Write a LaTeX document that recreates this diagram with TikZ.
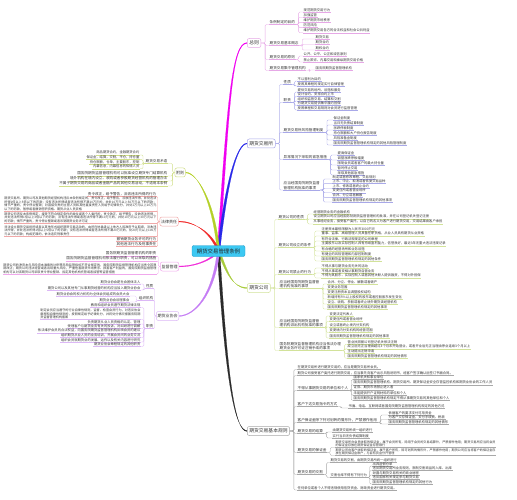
\documentclass[tikz,border=0pt]{standalone}
\usepackage{fontspec}
\newfontfamily\cjk{Noto Sans CJK SC}
\usepackage{xcolor}
\usepackage{tikz}
\usetikzlibrary{backgrounds}
\XeTeXlinebreaklocale "zh"
\XeTeXlinebreakskip = 0pt plus 1pt

\definecolor{rootc}{HTML}{3CC8F2}
\definecolor{rootd}{HTML}{1E9CCC}
\definecolor{zzc}{HTML}{F000F0}
\definecolor{zzl}{HTML}{E6A8E6}
\definecolor{jsc}{HTML}{2828E8}
\definecolor{jsl}{HTML}{A8A8E8}
\definecolor{gsc}{HTML}{A8CC3C}
\definecolor{gsl}{HTML}{D2E29A}
\definecolor{gzc}{HTML}{2A2A2A}
\definecolor{gzl}{HTML}{A8A8A8}
\definecolor{fzc}{HTML}{B4D028}
\definecolor{fzl}{HTML}{D0DE88}
\definecolor{flc}{HTML}{F02828}
\definecolor{fll}{HTML}{F0A8A8}
\definecolor{jgc}{HTML}{F028D8}
\definecolor{jgl}{HTML}{F0A8EC}
\definecolor{xhc}{HTML}{C47CF4}
\definecolor{xhl}{HTML}{DCB8F6}

\begin{document}
\begin{tikzpicture}[x=1pt, y=-1pt,
  rootbox/.style={rectangle, rounded corners=2pt, draw=rootd, fill=rootc, line width=0.4pt, minimum width=53pt, minimum height=11pt, inner sep=1pt, text=black!85, font=\cjk\fontsize{5.4}{6}\selectfont},
  mainbox/.style={rectangle, rounded corners=2pt, draw=#1, fill=white, line width=0.5pt, minimum height=9pt, inner xsep=2pt, inner ysep=1pt, text=black!80, font=\cjk\fontsize{4.8}{5.4}\selectfont},
  sidebox/.style={mainbox=#1, inner xsep=1.2pt, font=\cjk\fontsize{4}{4.6}\selectfont},
  branch/.style={fill=#1, draw=#1, line width=0.2pt, line join=round},
  twig/.style={draw=#1, line width=0.35pt, rounded corners=1.2pt},
  subtopic/.style={inner sep=0.5pt, align=left, text=black!80, font=\cjk\fontsize{3.6}{4.1}\selectfont,
    append after command={(\tikzlastnode.south west) edge[draw=#1, line width=0.35pt] (\tikzlastnode.south east)}},
  leaftopic/.style={inner sep=0.5pt, text=black!80, font=\cjk\fontsize{3.3}{3.7}\selectfont,
    append after command={(\tikzlastnode.south west) edge[draw=#1, line width=0.35pt] (\tikzlastnode.south east)}},
  blocktopic/.style={inner sep=0.4pt, align=justify, text=black!80, font=\cjk\fontsize{3.1}{3.5}\selectfont,
    append after command={(\tikzlastnode.south west) edge[draw=#1, line width=0.35pt] (\tikzlastnode.south east)}}
]
\useasboundingbox (0,0) rectangle (517,500);

% Centre topic
\node[rootbox] (root) at (218.5,251) {期货交易管理条例};

% Main topics, right side
\node[mainbox=zzl, anchor=west] (zz) at (247,43) {总则};
\node[mainbox=jsl, anchor=west] (js) at (247,143.5) {期货交易所};
\node[mainbox=gsl, anchor=west] (gs) at (247,288) {期货公司};
\node[mainbox=gzl, anchor=west] (gz) at (247,431) {期货交易基本规则};
% Main topics, left side
\node[sidebox=fzl, anchor=east] (fz) at (185.5,172.5) {附则};
\node[sidebox=fll, anchor=east] (fl) at (178.5,221.5) {法律责任};
\node[sidebox=jgl, anchor=east] (jg) at (179,266.5) {监督管理};
\node[sidebox=xhl, anchor=east] (xh) at (179,316) {期货业协会};

% Tapered branches behind the centre
\begin{scope}[on background layer]
\path[branch=zzc] ([xshift=-1.3pt]root.center) .. controls +(10,-150) and +(-15,0) .. ([yshift=0.4pt]zz.west)
  -- ([yshift=-0.4pt]zz.west) .. controls +(-15,0) and +(10,-150) .. ([xshift=1.3pt]root.center) -- cycle;
\path[branch=jsc] ([xshift=-1.3pt]root.center) .. controls +(8,-70) and +(-10,0) .. ([yshift=0.4pt]js.west)
  -- ([yshift=-0.4pt]js.west) .. controls +(-10,0) and +(8,-70) .. ([xshift=1.3pt]root.center) -- cycle;
\path[branch=gsc] ([xshift=-1.3pt]root.center) .. controls +(8,20) and +(-15,0) .. ([yshift=0.4pt]gs.west)
  -- ([yshift=-0.4pt]gs.west) .. controls +(-15,0) and +(8,20) .. ([xshift=1.3pt]root.center) -- cycle;
\path[branch=gzc] ([xshift=-1.3pt]root.center) .. controls +(8,130) and +(-12,0) .. ([yshift=0.4pt]gz.west)
  -- ([yshift=-0.4pt]gz.west) .. controls +(-12,0) and +(8,130) .. ([xshift=1.3pt]root.center) -- cycle;
\path[branch=fzc] ([xshift=-1.3pt]root.center) .. controls +(-5,-50) and +(12,0) .. ([yshift=0.4pt]fz.east)
  -- ([yshift=-0.4pt]fz.east) .. controls +(12,0) and +(-5,-50) .. ([xshift=1.3pt]root.center) -- cycle;
\path[branch=flc] ([xshift=-1.3pt]root.center) .. controls +(-8,-20) and +(15,0) .. ([yshift=0.4pt]fl.east)
  -- ([yshift=-0.4pt]fl.east) .. controls +(15,0) and +(-8,-20) .. ([xshift=1.3pt]root.center) -- cycle;
\path[branch=jgc] ([xshift=-1.3pt]root.center) .. controls +(-8,10) and +(15,0) .. ([yshift=0.4pt]jg.east)
  -- ([yshift=-0.4pt]jg.east) .. controls +(15,0) and +(-8,10) .. ([xshift=1.3pt]root.center) -- cycle;
\path[branch=xhc] ([xshift=-1.3pt]root.center) .. controls +(-5,45) and +(15,0) .. ([yshift=0.4pt]xh.east)
  -- ([yshift=-0.4pt]xh.east) .. controls +(15,0) and +(-5,45) .. ([xshift=1.3pt]root.center) -- cycle;
\end{scope}

% 总则
\node[subtopic=zzl, anchor=south west] (zz1) at (269,24.5) {条例制定的目的};
\node[subtopic=zzl, anchor=south west] (zz2) at (269,45.5) {期货交易基本概念};
\node[subtopic=zzl, anchor=south west] (zz3) at (269,59.5) {期货交易的原则};
\node[subtopic=zzl, anchor=south west] (zz4) at (269,70.5) {期货交易集中管理机构};
\foreach \nm in {zz1,zz2,zz3,zz4}
  \draw[twig=zzl] (zz.east) -- ++(4,0) |- (\nm.south west);
\foreach \txt [count=\i] in {规范期货交易行为,加强监管,维护期货市场秩序,防范风险,维护期货交易各方的合法权益和社会公共利益}{
  \node[leaftopic=zzl, anchor=south west] (zz1-\i) at (303,6.8+5.2*\i) {\txt};
  \draw[twig=zzl] (zz1.south east) -- ++(3,0) |- (zz1-\i.south west);
}
\foreach \txt [count=\i] in {期货交易,期货合约,期权合约}{
  \node[leaftopic=zzl, anchor=south west] (zz2-\i) at (315,33.5+5.5*\i) {\txt};
  \draw[twig=zzl] (zz2.south east) -- ++(3,0) |- (zz2-\i.south west);
}
\foreach \txt [count=\i] in {公开、公平、公正和诚信原则,禁止欺诈、内幕交易和操纵期货交易价格}{
  \node[leaftopic=zzl, anchor=south west] (zz3-\i) at (303,50+6*\i) {\txt};
  \draw[twig=zzl] (zz3.south east) -- ++(3,0) |- (zz3-\i.south west);
}
\node[leaftopic=zzl, anchor=south west] (zz4-1) at (315,70) {国务院期货监督管理机构};
\draw[twig=zzl] (zz4.south east) -- ++(3,0) |- (zz4-1.south west);

% 期货交易所
\node[subtopic=jsl, anchor=south west] (js1) at (283,84.5) {性质};
\node[subtopic=jsl, anchor=south west] (js2) at (283,102.5) {职责};
\node[subtopic=jsl, anchor=south west] (js3) at (283,132.5) {期货交易所风险管理制度};
\node[subtopic=jsl, anchor=south west] (js4) at (283,159.5) {异常情况下采取的紧急措施};
\node[subtopic=jsl, anchor=south west] (js5) at (283,190) {应当经国务院期货监督\\管理机构批准的事项};
\foreach \nm in {js1,js2,js3,js4,js5}
  \draw[twig=jsl] (js.east) -- ++(4,0) |- (\nm.south west);
\foreach \txt [count=\i] in {不以营利为目的,按照其章程的规定实行自律管理}{
  \node[leaftopic=jsl, anchor=south west] (js1-\i) at (297,76+5*\i) {\txt};
  \draw[twig=jsl] (js1.south east) -- ++(3,0) |- (js1-\i.south west);
}
\foreach \txt [count=\i] in {提供交易的场所、设施和服务,设计合约、安排合约上市,组织和监督交易、结算和交割,为期货交易提供集中履约担保,按照章程和交易规则对会员进行监督管理}{
  \node[leaftopic=jsl, anchor=south west] (js2-\i) at (297,87.5+4.5*\i) {\txt};
  \draw[twig=jsl] (js2.south east) -- ++(3,0) |- (js2-\i.south west);
}
\foreach \txt [count=\i] in {保证金制度,当日无负债结算制度,涨跌停板制度,持仓限额和大户持仓报告制度,风险准备金制度,国务院期货监督管理机构规定的其他风险管理制度}{
  \node[leaftopic=jsl, anchor=south west] (js3-\i) at (333,115+5*\i) {\txt};
  \draw[twig=jsl] (js3.south east) -- ++(3,0) |- (js3-\i.south west);
}
\foreach \txt [count=\i] in {提高保证金,调整涨跌停板幅度,限制会员或者客户的最大持仓量,暂时停止交易,采取其他紧急措施}{
  \node[leaftopic=jsl, anchor=south west] (js4-\i) at (337,150+5*\i) {\txt};
  \draw[twig=jsl] (js4.south east) -- ++(3,0) |- (js4-\i.south west);
}
\foreach \txt [count=\i] in {制定或者修改章程、交易规则,上市、中止、取消或者恢复交易品种,上市、修改或者终止合约,变更住所或者营业场所,合并、分立或者解散,国务院期货监督管理机构规定的其他事项}{
  \node[leaftopic=jsl, anchor=south west] (js5-\i) at (332,174.4+4.6*\i) {\txt};
  \draw[twig=jsl] (js5.south east) -- ++(3,0) |- (js5-\i.south west);
}

% 期货公司
\node[subtopic=gsl, anchor=south west] (gs1) at (278,219.5) {期货公司的性质};
\node[subtopic=gsl, anchor=south west] (gs2) at (278,247.5) {期货公司设立的条件};
\node[subtopic=gsl, anchor=south west] (gs3) at (278,274.5) {期货公司禁止的行为};
\node[subtopic=gsl, anchor=south west] (gs4) at (279,288.5) {应当经国务院期货监督管\\理机构批准的事项};
\node[subtopic=gsl, anchor=south west] (gs5) at (279,327.5) {应当经国务院期货监督管\\理机构派出机构批准的事项};
\node[subtopic=gsl, anchor=south west] (gs6) at (279,350.5) {国务院期货监督管理机构应当依法办理\\期货业务许可证注销手续的事项};
\foreach \nm in {gs1,gs2,gs3,gs4,gs5,gs6}
  \draw[twig=gsl] (gs.east) -- ++(4,0) |- (\nm.south west);
\foreach \txt [count=\i] in {经营期货业务的金融机构,设立期货公司应当经国务院期货监督管理机构批准，并在公司登记机关登记注册,从事经纪业务，接受客户委托，以自己的名义为客户进行期货交易，交易结果由客户承担}{
  \node[leaftopic=gsl, anchor=south west] (gs1-\i) at (313,209+5*\i) {\txt};
  \draw[twig=gsl] (gs1.south east) -- ++(3,0) |- (gs1-\i.south west);
}
\foreach \txt [count=\i] in {注册资本最低限额为人民币3000万元,董事、监事、高级管理人员具备任职资格，从业人员具有期货从业资格,有符合法律、行政法规规定的公司章程,主要股东以及实际控制人具有持续盈利能力，信誉良好，最近3年无重大违法违规记录,有合格的经营场所和业务设施,有健全的风险管理和内部控制制度,国务院期货监督管理机构规定的其他条件}{
  \node[leaftopic=gsl, anchor=south west] (gs2-\i) at (321,226+5*\i) {\txt};
  \draw[twig=gsl] (gs2.south east) -- ++(3,0) |- (gs2-\i.south west);
}
\foreach \txt [count=\i] in {不得从事与期货业务无关的活动,不得从事或者变相从事期货自营业务,不得为其股东、实际控制人或者其他关联人提供融资，不得对外担保}{
  \node[leaftopic=gsl, anchor=south west] (gs3-\i) at (321,263+5*\i) {\txt};
  \draw[twig=gsl] (gs3.south east) -- ++(3,0) |- (gs3-\i.south west);
}
\foreach \txt [count=\i] in {合并、分立、停业、解散或者破产,变更业务范围,变更注册资本且调整股权结构,新增持有5\%以上股权的股东或者控股股东发生变化,设立、收购、参股或者终止境外期货类经营机构,国务院期货监督管理机构规定的其他事项}{
  \node[leaftopic=gsl, anchor=south west] (gs4-\i) at (327,279+5*\i) {\txt};
  \draw[twig=gsl] (gs4.south east) -- ++(3,0) |- (gs4-\i.south west);
}
\foreach \txt [count=\i] in {变更法定代表人,变更住所或者营业场所,设立或者终止境内分支机构,变更境内分支机构的经营范围,国务院期货监督管理机构规定的其他事项}{
  \node[leaftopic=gsl, anchor=south west] (gs5-\i) at (329,310.5+5.5*\i) {\txt};
  \draw[twig=gsl] (gs5.south east) -- ++(2.5,0) |- (gs5-\i.south west);
}
\foreach \txt [count=\i] in {营业执照被公司登记机关依法注销,成立后无正当理由超过3个月未开始营业，或者开业后无正当理由停业连续3个月以上,主动提出注销申请,国务院期货监督管理机构规定的其他情形}{
  \node[leaftopic=gsl, anchor=south west] (gs6-\i) at (347,339.5+4.7*\i) {\txt};
  \draw[twig=gsl] (gs6.south east) -- ++(3,0) |- (gs6-\i.south west);
}

% 期货交易基本规则
\node[leaftopic=gzl, anchor=south west] (gz1) at (297,369.5) {在期货交易所进行期货交易的，应当是期货交易所会员。};
\node[leaftopic=gzl, anchor=south west] (gz2) at (297,375.5) {期货公司接受客户委托进行期货交易，应当事先向客户出示风险说明书，经客户签字确认后签订书面合同。};
\node[subtopic=gzl, anchor=south west] (gz3) at (297,390.5) {不得从事期货交易的单位和个人};
\node[subtopic=gzl, anchor=south west] (gz4) at (297,406.5) {客户下达交易指令的方式};
\node[subtopic=gzl, anchor=south west] (gz5) at (297,422.5) {客户保证金除下列可划转的情形外，严禁挪作他用};
\node[subtopic=gzl, anchor=south west] (gz6) at (297,433.5) {期货交易的结算};
\node[subtopic=gzl, anchor=south west] (gz7) at (297,452.5) {期货交易的保证金};
\node[subtopic=gzl, anchor=south west] (gz8) at (297,474.5) {期货交易的交割};
\node[leaftopic=gzl, anchor=south west] (gz9) at (297,490) {任何单位或者个人不得违规使用信贷资金、财政资金进行期货交易。};
\foreach \nm in {gz1,gz2,gz3,gz4,gz5,gz6,gz7,gz8,gz9}
  \draw[twig=gzl] (gz.east) -- ++(4,0) |- (\nm.south west);
\foreach \txt [count=\i] in {国家机关和事业单位,国务院期货监督管理机构、期货交易所、期货保证金安全存管监控机构和期货业协会的工作人员,证券、期货市场禁止进入者,未能提供开户证明材料的单位和个人,国务院期货监督管理机构规定不得从事期货交易的其他单位和个人}{
  \node[leaftopic=gzl, anchor=south west] (gz3-\i) at (353,374.3+5.2*\i) {\txt};
  \draw[twig=gzl] (gz3.south east) -- ++(2.5,0) |- (gz3-\i.south west);
}
\node[leaftopic=gzl, anchor=south west] (gz4-1) at (348,408) {书面、电话、互联网或者国务院期货监督管理机构规定的其他方式};
\draw[twig=gzl] (gz4.south east) -- ++(3,0) |- (gz4-1.south west);
\foreach \txt [count=\i] in {依据客户的要求支付可用资金,为客户交存保证金，支付手续费、税款,国务院期货监督管理机构规定的其他情形}{
  \node[leaftopic=gzl, anchor=south west] (gz5-\i) at (388,410.5+4.5*\i) {\txt};
  \draw[twig=gzl] (gz5.south east) -- ++(3,0) |- (gz5-\i.south west);
}
\foreach \txt [count=\i] in {由期货交易所统一组织进行,实行当日无负债结算制度}{
  \node[leaftopic=gzl, anchor=south west] (gz6-\i) at (332,426+6*\i) {\txt};
  \draw[twig=gzl] (gz6.south east) -- ++(3,0) |- (gz6-\i.south west);
}
\node[blocktopic=gzl, text width=160pt, anchor=south west] (gz7-1) at (335,447.5) {期货交易所向会员收取的保证金，属于会员所有，除用于会员的交易结算外，严禁挪作他用；期货交易所应当将会员的保证金存放在期货保证金存管银行};
\node[blocktopic=gzl, text width=160pt, anchor=south west] (gz7-2) at (335,455.5) {期货公司向客户收取的保证金，属于客户所有，除可划转的情形外，严禁挪作他用；期货公司应当将客户的保证金存放在期货保证金账户，与自有资金分开管理};
\draw[twig=gzl] (gz7.south east) -- ++(3,0) |- (gz7-1.south west);
\draw[twig=gzl] (gz7.south east) -- ++(3,0) |- (gz7-2.south west);
\node[leaftopic=gzl, anchor=south west] (gz81) at (330,462.5) {期货交易的交割，由期货交易所统一组织进行};
\node[leaftopic=gzl, anchor=south west] (gz82) at (330,477.5) {交割仓库不得有下列行为};
\draw[twig=gzl] (gz8.south east) -- ++(3,0) |- (gz81.south west);
\draw[twig=gzl] (gz8.south east) -- ++(3,0) |- (gz82.south west);
\foreach \txt [count=\i] in {出具虚假仓单,违反期货交易所业务规则，限制交割商品的入库、出库,泄露与期货交易有关的商业秘密,违反国家有关规定参与期货交易,国务院期货监督管理机构规定的其他行为}{
  \node[leaftopic=gzl, anchor=south west] (gz82-\i) at (372,461.5+4.5*\i) {\txt};
  \draw[twig=gzl] (gz82.south east) -- ++(2,0) |- (gz82-\i.south west);
}

% 附则
\node[subtopic=fzl, anchor=south east] (fz1) at (168,163.5) {期货交易术语};
\node[subtopic=fzl, anchor=south east] (fz2) at (168,176) {国务院期货监督管理机构可以批准设立期货专门结算机构};
\node[subtopic=fzl, anchor=south east] (fz3) at (168,181) {境外机构在境内设立、收购或者参股期货经营机构的管理办法};
\node[subtopic=fzl, anchor=south east] (fz4) at (168,186) {不属于期货交易的商品或者金融产品的其他交易活动，不适用本条例};
\foreach \nm in {fz1,fz2,fz3,fz4}
  \draw[twig=fzl] (fz.west) -- ++(-2,0) |- (\nm.south east);
\foreach \txt [count=\i] in {商品期货合约，金融期货合约,保证金，结算，交割，平仓，持仓量,持仓限额，仓单，主要股东，控制,内幕信息，内幕信息的知情人员}{
  \node[leaftopic=fzl, anchor=south east] (fz1-\i) at (140,150.4+4.6*\i) {\txt};
  \draw[twig=fzl] (fz1.south west) -- ++(-2,0) |- (fz1-\i.south east);
}

% 法律责任
\node[subtopic=fll, anchor=south east] (fl1) at (157,196.5) {责令改正，给予警告，没收违法所得的行为};
\node[blocktopic=fll, text width=152pt, anchor=south east] (fl2) at (157,211) {期货交易所、期货公司及其他期货经营机构违反本条例规定的，责令改正，给予警告，没收违法所得，并处违法所得1倍以上5倍以下的罚款；没有违法所得或者违法所得不满10万元的，并处10万元以上50万元以下的罚款；情节严重的，责令停业整顿；对直接负责的主管人员和其他直接责任人员给予纪律处分，并处1万元以上10万元以下的罚款，暂停或者撤销任职资格、期货从业人员资格};
\node[blocktopic=fll, text width=152pt, anchor=south east] (fl3) at (157,223.5) {期货公司违反本条例规定，接受不符合规定条件的单位或者个人委托的，责令改正，给予警告，没收违法所得，并处违法所得1倍以上3倍以下的罚款；没有违法所得或者违法所得不满10万元的，并处10万元以上30万元以下的罚款；情节严重的，责令停业整顿或者吊销期货业务许可证};
\node[blocktopic=fll, text width=152pt, anchor=south east] (fl4) at (157,236.5) {非法设立期货交易场所或者以其他形式组织期货交易活动的，由所在地县级以上地方人民政府予以取缔，没收违法所得，并处违法所得1倍以上5倍以下的罚款；没有违法所得或者违法所得不满20万元的，处20万元以上100万元以下的罚款；构成犯罪的，依法追究刑事责任};
\node[subtopic=fll, anchor=south east] (fl5) at (157,241.5) {撤销期货业务许可的行为};
\node[subtopic=fll, anchor=south east] (fl6) at (157,246.5) {其他违法行为及刑事责任};
\foreach \nm in {fl1,fl2,fl3,fl4,fl5,fl6}
  \draw[twig=fll] (fl.west) -- ++(-1.8,0) |- (\nm.south east);

% 监督管理
\node[subtopic=jgl, anchor=south east] (jg1) at (157,256) {国务院期货监督管理机构的职责};
\node[subtopic=jgl, anchor=south east] (jg2) at (157,261) {国务院期货监督管理机构依法履行职责，可以采取的措施};
\node[blocktopic=jgl, text width=153pt, anchor=south east] (jg3) at (157,274) {期货公司的净资本与风险资本准备的比例等风险监管指标不符合规定的，国务院期货监督管理机构应当责令其限期改正；期货公司违法经营或者出现重大风险，严重危害期货市场秩序、损害客户利益的，国务院期货监督管理机构可以对该期货公司采取责令停业整顿、指定其他机构托管或者接管等监管措施};
\foreach \nm in {jg1,jg2,jg3}
  \draw[twig=jgl] (jg.west) -- ++(-1.8,0) |- (\nm.south east);

% 期货业协会
\node[subtopic=xhl, anchor=south east] (xh1) at (154,288.5) {性质};
\node[subtopic=xhl, anchor=south east] (xh2) at (154,300.5) {组织机构};
\node[subtopic=xhl, anchor=south east] (xh3) at (154,328.5) {职责};
\foreach \nm in {xh1,xh2,xh3}
  \draw[twig=xhl] (xh.west) -- ++(-1.6,0) |- (\nm.south east);
\foreach \txt [count=\i] in {期货业协会是社会团体法人,期货公司以及其他专门从事期货经营的机构应当加入期货业协会}{
  \node[leaftopic=xhl, anchor=south east] (xh1-\i) at (141,278+6*\i) {\txt};
  \draw[twig=xhl] (xh1.south west) -- ++(-1.5,0) |- (xh1-\i.south east);
}
\foreach \txt [count=\i] in {期货业协会的权力机构为全体会员组成的会员大会,期货业协会设理事会}{
  \node[leaftopic=xhl, anchor=south east] (xh2-\i) at (130,290+6*\i) {\txt};
  \draw[twig=xhl] (xh2.south west) -- ++(-2,0) |- (xh2-\i.south east);
}
\node[leaftopic=xhl, anchor=south east] (xh3-1) at (141,307.5) {教育和组织会员遵守期货法律法规};
\node[blocktopic=xhl, text width=100pt, anchor=south east] (xh3-2) at (141,319.5) {制定会员应当遵守的行业自律性规则，监督、检查会员行为，对违反协会章程和自律性规则的，按照规定给予纪律处分，并将处分情况报国务院期货监督管理机构备案};
\foreach \txt [count=\i from 3] in {负责期货从业人员资格的认定、管理,受理客户与期货业务有关的投诉，对纠纷进行调解,依法维护会员的合法权益，向国务院期货监督管理机构反映会员的建议,组织期货从业人员的业务培训，开展会员间的业务交流,组织会员就期货业的发展、运作以及有关内容进行研究,期货业协会章程规定的其他职责}{
  \node[leaftopic=xhl, anchor=south east] (xh3-\i) at (141,319.5+4.5*\i-9) {\txt};
}
\foreach \i in {1,...,8}
  \draw[twig=xhl] (xh3.south west) -- ++(-1.5,0) |- (xh3-\i.south east);

\end{tikzpicture}
\end{document}
